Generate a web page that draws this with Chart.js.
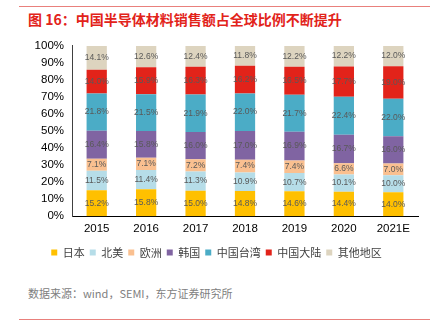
<!DOCTYPE html>
<html>
<head>
<meta charset="utf-8">
<script src="https://cdn.jsdelivr.net/npm/chart.js@4/dist/chart.umd.min.js"></script>
<style>
  body { margin: 0; background: #fff; font-family: "Liberation Sans", "Noto Sans CJK SC", sans-serif; }
  #wrap { position: relative; width: 437px; height: 332px; overflow: hidden; }
  .rule { position: absolute; left: 19px; width: 411px; height: 1px; background: #e9807c; }
  #title { position: absolute; left: 28px; top: 9px; font: bold 14px "Noto Sans CJK SC", sans-serif; color: #e2231a; white-space: nowrap; }
  #src { position: absolute; left: 28px; top: 285px; font: 11px "Noto Sans CJK SC", sans-serif; color: #808080; white-space: nowrap; }
  #box { position: absolute; left: 15px; top: 31px; width: 415px; height: 237px; }
</style>
</head>
<body>
<div id="wrap">
  <div class="rule" style="top:6px"></div>
  <div id="title">图 16：中国半导体材料销售额占全球比例不断提升</div>
  <div id="box"><canvas id="c"></canvas></div>
  <div id="src">数据来源：wind，SEMI，东方证券研究所</div>
  <div class="rule" style="top:319px"></div>
</div>
<script>
const years = ['2015', '2016', '2017', '2018', '2019', '2020', '2021E'];
const japan = [15.2, 15.8, 15.0, 14.8, 14.6, 14.4, 14.0];
const northAmerica = [11.5, 11.4, 11.3, 10.9, 10.7, 10.1, 10.0];
const europe = [7.1, 7.1, 7.2, 7.4, 7.4, 6.6, 7.0];
const korea = [16.4, 15.8, 16.0, 17.0, 16.9, 16.7, 16.0];
const taiwan = [21.8, 21.5, 21.9, 22.0, 21.7, 22.4, 22.0];
const mainland = [14.0, 15.9, 16.3, 16.2, 16.5, 17.7, 19.0];
const others = [14.1, 12.6, 12.4, 11.8, 12.2, 12.2, 12.0];

const series = [
  ['日本', japan, '#ffc000'],
  ['北美', northAmerica, '#b6dde8'],
  ['欧洲', europe, '#fac090'],
  ['韩国', korea, '#8064a2'],
  ['中国台湾', taiwan, '#4bacc6'],
  ['中国大陆', mainland, '#e2231a'],
  ['其他地区', others, '#ddd4bf']
];

// value labels in the middle of every segment
const segLabels = {
  id: 'segLabels',
  afterDatasetsDraw(chart) {
    const ctx = chart.ctx;
    ctx.save();
    ctx.font = '8.5px "Liberation Sans", sans-serif';
    ctx.fillStyle = '#595959';
    ctx.textAlign = 'center';
    ctx.textBaseline = 'middle';
    chart.data.datasets.forEach((ds, i) => {
      chart.getDatasetMeta(i).data.forEach((bar, j) => {
        ctx.fillText(ds.data[j].toFixed(1) + '%', bar.x, (bar.y + bar.base) / 2);
      });
    });
    ctx.restore();
  }
};

new Chart(document.getElementById('c'), {
  type: 'bar',
  data: {
    labels: years,
    datasets: series.map(s => ({
      label: s[0],
      data: s[1],
      backgroundColor: s[2],
      borderWidth: 0,
      barPercentage: 0.41,
      categoryPercentage: 1
    }))
  },
  options: {
    responsive: true,
    maintainAspectRatio: false,
    animation: false,
    layout: { padding: { top: 4, right: 12, left: 0, bottom: 0 } },
    plugins: {
      tooltip: { enabled: false },
      legend: {
        position: 'bottom',
        labels: {
          boxWidth: 6,
          boxHeight: 6,
          padding: 5,
          color: '#404040',
          font: { size: 11, family: '"Noto Sans CJK SC", sans-serif' }
        }
      }
    },
    scales: {
      x: {
        stacked: true,
        grid: { display: false, drawTicks: false },
        border: { display: true, color: '#000' },
        ticks: { color: '#000', font: { size: 11.5, family: '"Liberation Sans", sans-serif' }, padding: 6 }
      },
      y: {
        stacked: true,
        min: 0,
        max: 100,
        grid: { display: false, drawTicks: false },
        border: { display: true, color: '#404040' },
        afterFit: scale => { scale.width = 57; },
        ticks: {
          stepSize: 10,
          autoSkip: false,
          color: '#000',
          padding: 8,
          font: { size: 11.5, family: '"Liberation Sans", sans-serif' },
          callback: v => v + '%'
        }
      }
    }
  },
  plugins: [segLabels]
});
</script>
</body>
</html>
